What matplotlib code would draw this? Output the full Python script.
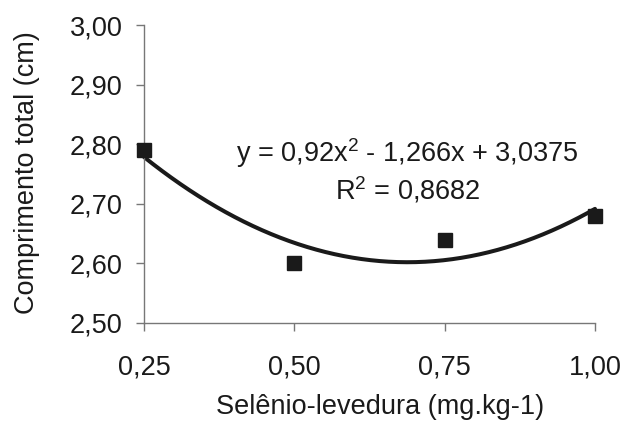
import matplotlib
matplotlib.use("Agg")
import matplotlib.pyplot as plt
import numpy as np

# values
doses = [0.25, 0.50, 0.75, 1.00]
comprimento = [2.79, 2.60, 2.64, 2.68]
coef = [0.92, -1.266, 3.0375]  # trendline y = a x^2 + b x + c
x_ticks = [0.25, 0.50, 0.75, 1.00]
x_labels = ["0,25", "0,50", "0,75", "1,00"]
y_ticks = [2.50, 2.60, 2.70, 2.80, 2.90, 3.00]
y_labels = ["2,50", "2,60", "2,70", "2,80", "2,90", "3,00"]

plt.rcParams["font.family"] = ["Liberation Sans", "DejaVu Sans"]
plt.rcParams["mathtext.default"] = "regular"

FS = 19.5
INK = "#1a1a1a"

fig = plt.figure(figsize=(6.24, 4.21), dpi=100)
ax = fig.add_axes([0.2308, 0.2328, 0.9535 - 0.2308, 0.9406 - 0.2328])

xs = np.linspace(doses[0], doses[-1], 200)
ax.plot(xs, np.polyval(coef, xs), color=INK, lw=2.9, solid_capstyle="round",
        clip_on=False, zorder=2)
ax.plot(doses, comprimento, "s", color=INK, ms=10.5, clip_on=False, zorder=3)

ax.set_xlim(0.25, 1.00)
ax.set_ylim(2.50, 3.00)
ax.set_xticks(x_ticks, x_labels)
ax.set_yticks(y_ticks, y_labels)

for side in ("top", "right"):
    ax.spines[side].set_visible(False)
for side in ("left", "bottom"):
    ax.spines[side].set_color("#777777")
    ax.spines[side].set_linewidth(1.0)

ax.tick_params(axis="both", colors="#777777", labelcolor=INK, labelsize=FS,
               length=5.5, width=1.0)
ax.tick_params(axis="x", pad=17)
ax.tick_params(axis="y", pad=10)

fig.text(380 / 624, 1 - 414 / 421, "Selênio-levedura (mg.kg-1)", fontsize=FS,
         color=INK, ha="center", va="baseline")
fig.text(27 / 624, 1 - 173 / 421, "Comprimento total (cm)", fontsize=FS,
         color=INK, ha="center", va="center", rotation=90)

ax.text(0.6875, 2.7705, "y = 0,92x$^2$ - 1,266x + 3,0375", ha="center",
        va="baseline", fontsize=FS, color=INK)
ax.text(0.6895, 2.7067, "R$^2$ = 0,8682", ha="center", va="baseline",
        fontsize=FS, color=INK)

fig.savefig("out.png", dpi=100, facecolor="white")
